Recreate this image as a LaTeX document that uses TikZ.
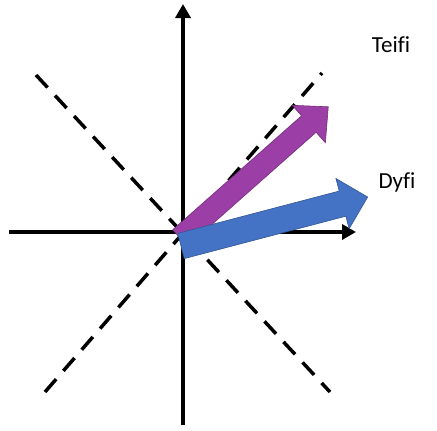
\documentclass[tikz,border=0pt]{standalone}
\usepackage{fontspec}
\setmainfont{Carlito}[Ligatures=NoCommon]
\usetikzlibrary{arrows.meta}
\definecolor{teifipurple}{RGB}{155,62,165}
\definecolor{dyfiblue}{RGB}{68,114,196}

\begin{document}
\begin{tikzpicture}[
    x=1pt, y=-1pt,
    axis/.style={line width=3.5pt, -{Triangle[length=14pt,width=15pt]}},
    guide/.style={line width=3.5pt, dash pattern=on 17pt off 11pt},
    riverarrow/.style={draw=#1!75!black, line width=0.6pt, fill=#1},
    rivername/.style={font=\fontsize{23}{27}\selectfont, inner sep=0pt}
  ]
    \useasboundingbox (0,0) rectangle (437,431);
    % diagonal guides
    \draw[guide] (36,75) -- (330,392);
    \draw[guide] (45,392) -- (322,73);
    % axes
    \coordinate (west) at (9,232);
    \coordinate (east) at (356,232);
    \coordinate (south) at (183,425);
    \coordinate (north) at (183,4);
    \draw[axis] (west) -- (east);
    \draw[axis] (south) -- (north);
    % Teifi arrow
    \begin{scope}[shift={(180,238)}, rotate=41.5]
      \draw[riverarrow=teifipurple] (0,-11) -- (172,-11) -- (172,-25) -- (198,0)
        -- (172,25) -- (172,11) -- (0,11) -- cycle;
    \end{scope}
    % Dyfi arrow
    \begin{scope}[shift={(181,246)}, rotate=14.7]
      \draw[riverarrow=dyfiblue] (0,-13) -- (167,-13) -- (167,-26) -- (193,0)
        -- (167,26) -- (167,13) -- (0,13) -- cycle;
    \end{scope}
    \node[rivername] (teifi) at (391,45) {Teifi};
    \node[rivername] (dyfi) at (397,182) {Dyfi};
  \end{tikzpicture}
\end{document}
